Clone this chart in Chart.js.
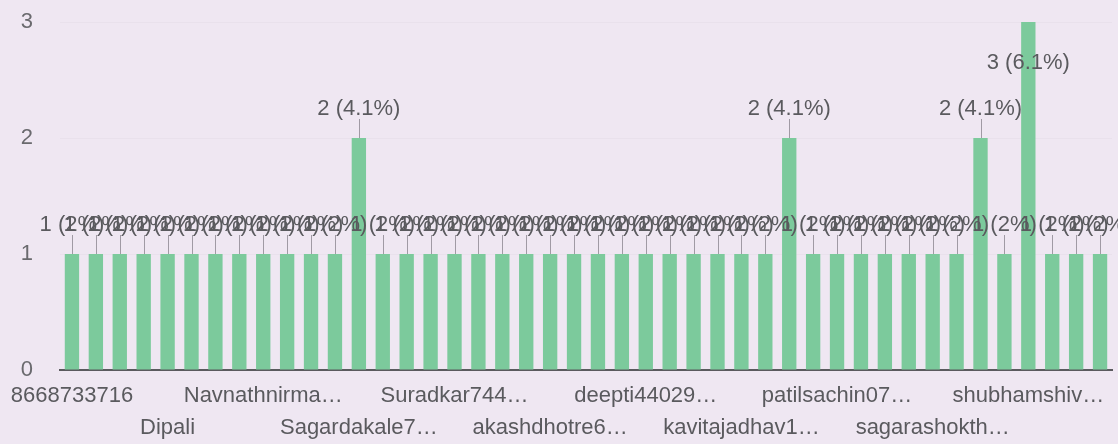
<!DOCTYPE html>
<html><head><meta charset="utf-8">
<script src="https://cdn.jsdelivr.net/npm/chart.js@4/dist/chart.umd.min.js"></script>
<style>
html,body{margin:0;padding:0;background:#efe7f2;}
#wrap{position:relative;width:1118px;height:444px;}
</style></head><body>
<div id="wrap"><canvas id="c" width="1118" height="444"></canvas></div>
<script>
const categories = [
  "8668733716","","","",
  "Dipali","","","",
  "Navnathnirma…","","","",
  "Sagardakale7…","","","",
  "Suradkar744…","","","",
  "akashdhotre6…","","","",
  "deepti44029…","","","",
  "kavitajadhav1…","","","",
  "patilsachin07…","","","",
  "sagarashokth…","","","",
  "shubhamshiv…","","",""
];
const values = [
  1,1,1,1,1,1,1,1,1,1,1,1,
  2,
  1,1,1,1,1,1,1,1,1,1,1,1,1,1,1,1,1,
  2,
  1,1,1,1,1,1,1,
  2,
  1,
  3,
  1,1,1
];
const yTicks = [0,1,2,3];
const total = values.reduce((a,b)=>a+b,0);

const FONT = '"Liberation Sans", Arial, sans-serif';

const labelPlugin = {
  id:'barLabels',
  afterDatasetsDraw(chart){
    const ctx = chart.ctx, meta = chart.getDatasetMeta(0), area = chart.chartArea;
    ctx.save();
    ctx.font = '22px ' + FONT;
    ctx.textAlign = 'center';
    ctx.textBaseline = 'middle';
    meta.data.forEach((bar,i)=>{
      const v = values[i];
      const pct = Math.round(v/total*1000)/10;
      const txt = v + ' (' + pct + '%)';
      let ly = bar.y - 29, leader = true;
      if (ly - 12 < area.top) { ly = bar.y + 41; leader = false; }
      if (leader) {
        ctx.strokeStyle = '#a09aa4'; ctx.lineWidth = 1;
        ctx.beginPath();
        ctx.moveTo(Math.round(bar.x)+0.5, ly+10);
        ctx.lineTo(Math.round(bar.x)+0.5, bar.y);
        ctx.stroke();
      }
      ctx.fillStyle = '#5a5a5e';
      ctx.fillText(txt, bar.x, ly);
    });
    ctx.restore();
  }
};

new Chart(document.getElementById('c'), {
  type:'bar',
  data:{ labels: categories, datasets:[{ data: values, backgroundColor:'#7cca9c', borderWidth:0, barPercentage:0.6, categoryPercentage:1 }] },
  options:{
    responsive:false, animation:false,
    layout:{ padding:{ top:22, right:6, left:0, bottom:0 } },
    plugins:{ legend:{display:false}, tooltip:{enabled:false} },
    scales:{
      x:{
        grid:{ display:false, drawTicks:false },
        border:{ display:true, color:'#5a5a5e', width:2 },
        ticks:{
          autoSkip:false, maxRotation:0, minRotation:0, padding:10,
          color:'#5a5a5e', font:{ family:FONT, size:22, lineHeight:1.45 },
          callback:(v,i)=>{ if (i%4) return ''; const l = categories[i]; return (i%8===0) ? [l,''] : ['',l]; }
        },
        afterFit:s=>{ s.height = 74; s.paddingTop = 0; s.paddingBottom = 0; }
      },
      y:{
        min:0, max:3,
        afterBuildTicks:s=>{ s.ticks = yTicks.map(v=>({value:v})); },
        ticks:{ padding:27, color:'#6a6a6e', font:{ family:FONT, size:22 } },
        grid:{ color:'rgba(0,0,0,0.025)', drawTicks:false },
        border:{ display:false },
        afterFit:s=>{ s.width = 60; s.paddingTop = 0; s.paddingBottom = 0; }
      }
    }
  },
  plugins:[labelPlugin]
});
</script>
</body></html>
